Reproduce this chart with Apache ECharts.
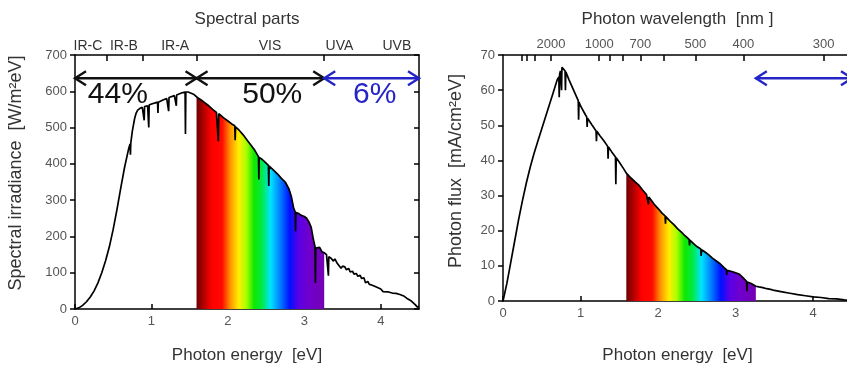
<!DOCTYPE html>
<html>
<head>
<meta charset="utf-8">
<script src="https://cdn.jsdelivr.net/npm/echarts@6/dist/echarts.min.js"></script>
<style>
  html, body { margin: 0; padding: 0; overflow: hidden; background: #fff; }
  #chart { width: 880px; height: 369px; }
</style>
</head>
<body>
<div id="chart"></div>
<script>
// solar spectrum, spectral irradiance [W/m2eV] vs photon energy [eV]
const energyIrr = [0, 0.05, 0.1, 0.15, 0.2, 0.25, 0.3, 0.35, 0.4, 0.45, 0.5, 0.55, 0.6, 0.65, 0.7, 0.72, 0.725, 0.73, 0.75, 0.78, 0.8, 0.82, 0.85, 0.88, 0.9, 0.905, 0.91, 0.95, 0.96, 0.965, 0.97, 1.0, 1.05, 1.08, 1.085, 1.09, 1.1, 1.15, 1.2, 1.22, 1.225, 1.23, 1.25, 1.3, 1.32, 1.325, 1.33, 1.35, 1.4, 1.44, 1.445, 1.45, 1.48, 1.5, 1.55, 1.59, 1.62, 1.65, 1.7, 1.75, 1.8, 1.85, 1.87, 1.875, 1.88, 1.9, 1.95, 2.0, 2.05, 2.09, 2.095, 2.1, 2.15, 2.2, 2.25, 2.3, 2.35, 2.4, 2.405, 2.41, 2.45, 2.5, 2.53, 2.535, 2.54, 2.55, 2.6, 2.65, 2.7, 2.75, 2.8, 2.83, 2.86, 2.88, 2.885, 2.89, 2.92, 2.96, 3.0, 3.03, 3.06, 3.09, 3.12, 3.14, 3.145, 3.15, 3.17, 3.2, 3.23, 3.26, 3.29, 3.31, 3.315, 3.32, 3.35, 3.38, 3.4, 3.43, 3.45, 3.48, 3.5, 3.53, 3.55, 3.58, 3.6, 3.63, 3.65, 3.68, 3.7, 3.73, 3.75, 3.78, 3.8, 3.83, 3.85, 3.88, 3.9, 3.95, 4.0, 4.03, 4.05, 4.1, 4.15, 4.2, 4.25, 4.3, 4.35, 4.4, 4.45, 4.48, 4.5];
const irradiance = [0, 3, 10, 20, 33, 50, 72, 100, 133, 172, 220, 275, 335, 392, 440, 455, 425, 458, 490, 525, 540, 548, 553, 556, 558, 520, 558, 560, 562, 500, 562, 565, 568, 570, 540, 570, 572, 576, 580, 582, 545, 583, 584, 588, 590, 560, 590, 592, 596, 598, 482, 598, 598, 596, 592, 585, 580, 576, 568, 560, 550, 542, 540, 462, 538, 535, 526, 518, 510, 505, 465, 502, 492, 480, 466, 452, 438, 420, 357, 418, 412, 402, 396, 339, 394, 392, 382, 372, 360, 350, 330, 310, 278, 268, 214, 266, 264, 258, 255, 250, 240, 225, 190, 172, 72, 168, 165, 170, 158, 155, 150, 146, 92, 144, 140, 132, 138, 126, 122, 112, 118, 116, 108, 112, 102, 104, 96, 98, 90, 93, 84, 86, 72, 76, 68, 66, 70, 60, 55, 48, 44, 47, 44, 43, 40, 36, 28, 22, 12, 5, 8, 3];

// photon flux [mA/cm2eV] vs photon energy [eV]
const energyFlux = [0, 0.05, 0.1, 0.15, 0.2, 0.25, 0.3, 0.35, 0.4, 0.45, 0.5, 0.55, 0.6, 0.65, 0.7, 0.72, 0.725, 0.73, 0.74, 0.75, 0.755, 0.76, 0.77, 0.8, 0.805, 0.81, 0.85, 0.9, 0.95, 0.97, 0.975, 0.98, 1.0, 1.05, 1.08, 1.085, 1.09, 1.1, 1.15, 1.2, 1.205, 1.21, 1.25, 1.3, 1.35, 1.355, 1.36, 1.4, 1.45, 1.455, 1.46, 1.5, 1.55, 1.59, 1.65, 1.7, 1.75, 1.8, 1.85, 1.87, 1.875, 1.88, 1.9, 1.95, 2.0, 2.05, 2.09, 2.095, 2.1, 2.15, 2.2, 2.25, 2.3, 2.35, 2.4, 2.405, 2.41, 2.45, 2.5, 2.55, 2.555, 2.56, 2.6, 2.65, 2.7, 2.75, 2.8, 2.85, 2.88, 2.885, 2.89, 2.9, 2.95, 3.0, 3.05, 3.1, 3.14, 3.145, 3.15, 3.2, 3.26, 3.3, 3.35, 3.4, 3.45, 3.5, 3.55, 3.6, 3.7, 3.8, 3.9, 4.0, 4.1, 4.2, 4.3, 4.4, 4.5];
const photonFlux = [0, 5, 11, 17, 23, 28.5, 33.5, 38, 42, 45.5, 49, 52.5, 56, 59.5, 63, 63.8, 58, 64.5, 65.5, 66, 60, 66.5, 67, 65.5, 60, 65.2, 63, 60.5, 58, 57, 51.6, 56.6, 55.5, 53.5, 52.3, 49.5, 52, 51.7, 50, 48.4, 45.5, 48.3, 47, 45.6, 44, 40.5, 43.8, 42.5, 41, 33.2, 40.8, 39.5, 37.8, 36.4, 35, 34, 33, 31.6, 30.3, 29.8, 27.5, 29.6, 29, 27.5, 26.3, 25, 24.2, 22, 24, 22.8, 21.8, 20.6, 19.6, 18.5, 17.5, 15.8, 17.3, 16.5, 15.5, 14.8, 12.8, 14.6, 14, 13.2, 12.2, 11.4, 10.6, 9.5, 8.9, 7.4, 8.7, 8.6, 8.4, 8, 7.6, 6.5, 5.6, 2.8, 5.4, 5, 4.2, 4, 3.8, 3.5, 3.3, 3, 2.8, 2.6, 2.2, 1.8, 1.5, 1.2, 1, 0.7, 0.6, 0.3, 0.2];

const energyTicks = [0, 1, 2, 3, 4];
const irrTicks = [0, 100, 200, 300, 400, 500, 600, 700];
const fluxTicks = [0, 10, 20, 30, 40, 50, 60, 70];

const partNames = ['IR-C', 'IR-B', 'IR-A', 'VIS', 'UVA', 'UVB'];
const partCenters = [0.17, 0.64, 1.31, 2.55, 3.46, 4.21];
const partBounds = [0.413, 0.886, 1.59, 3.26];

const waveLabels = [2000, 1000, 700, 500, 400, 300];
const waveTicks = [5000, 4000, 3000, 2000, 1000, 900, 800, 700, 600, 500, 400, 300];

const shareNames = ['44%', '50%', '6%'];
const shareSpans = [[0, 1.59], [1.59, 3.26], [3.26, 4.5]];
const visRange = [1.59, 3.26];

const HC = 1239.84;
const FONT = 'Liberation Sans, Arial, sans-serif';
const BLUE = '#2424c8';
const INK = '#111';

const pairs = (xs, ys) => xs.map((x, i) => [x, ys[i]]);
const visPart = (xs, ys) => pairs(xs, ys).filter(p => p[0] >= visRange[0] && p[0] <= visRange[1]);
const nearest = (arr, v) => {
  let best = 0;
  arr.forEach((a, i) => { if (Math.abs(a - v) < Math.abs(arr[best] - v)) best = i; });
  return best;
};

const rainbow = new echarts.graphic.LinearGradient(0, 0, 1, 0, [
  { offset: 0, color: '#6e0000' },
  { offset: 0.12, color: '#ff0000' },
  { offset: 0.2, color: '#ff0a00' },
  { offset: 0.26, color: '#ff8c00' },
  { offset: 0.33, color: '#ffee00' },
  { offset: 0.39, color: '#a8ff00' },
  { offset: 0.45, color: '#10e800' },
  { offset: 0.51, color: '#00ea40' },
  { offset: 0.58, color: '#00e4ff' },
  { offset: 0.66, color: '#0078ff' },
  { offset: 0.73, color: '#0010ff' },
  { offset: 0.8, color: '#5a00e6' },
  { offset: 0.88, color: '#7000cc' },
  { offset: 1, color: '#7400b4' }
]);

const frame = { show: true, onZero: false, lineStyle: { color: '#000', width: 1.5 } };
const tickLine = { color: '#000', width: 1.5 };
const titleStyle = { fontSize: 17, color: '#333', fontFamily: FONT };

function bottomAxis(grid) {
  return {
    type: 'value', gridIndex: grid, min: 0, max: 4.5, interval: 1,
    axisLine: frame, splitLine: { show: false },
    axisTick: { inside: true, length: 5, lineStyle: tickLine },
    axisLabel: { margin: 6, fontSize: 13, color: '#555', fontFamily: FONT, showMaxLabel: false,
      formatter: v => energyTicks.indexOf(v) >= 0 ? String(v) : '' },
    name: 'Photon energy  [eV]', nameLocation: 'middle', nameGap: grid === 0 ? 38 : 46,
    nameTextStyle: titleStyle
  };
}

function leftAxis(grid, max, ticks, name, shift) {
  return {
    type: 'value', gridIndex: grid, min: 0, max: max, interval: max / 7,
    axisLine: frame, splitLine: { show: false },
    axisTick: { inside: false, length: 5, lineStyle: tickLine },
    axisLabel: { margin: 8, fontSize: 13, color: '#555', fontFamily: FONT, formatter: v => ticks.indexOf(v) >= 0 ? String(v) : '' },
    name: name, nameLocation: 'middle', nameGap: grid === 0 ? 50 : 38,
    nameTextStyle: Object.assign({}, titleStyle, { fontSize: 18, padding: [0, 0, 0, shift] })
  };
}

function rightAxis(grid, max) {
  return {
    type: 'value', gridIndex: grid, position: 'right', min: 0, max: max, interval: max / 7,
    axisLine: frame, splitLine: { show: false },
    axisTick: { inside: true, length: 5, lineStyle: tickLine },
    axisLabel: { show: false }
  };
}

function arrows(xIdx, yIdx, y, list, colors) {
  return {
    type: 'custom', xAxisIndex: xIdx, yAxisIndex: yIdx, z: 5, silent: true,
    data: list.map(s => [s[0], s[1], y]),
    encode: { x: [0, 1], y: 2 },
    renderItem(params, api) {
      const a = api.coord([api.value(0), api.value(2)]);
      const b = api.coord([api.value(1), api.value(2)]);
      const h = 7, d = 11;
      const st = { stroke: colors[params.dataIndex], lineWidth: 2.4, fill: null };
      return {
        type: 'group', children: [
          { type: 'line', shape: { x1: a[0], y1: a[1], x2: b[0], y2: b[1] }, style: st },
          { type: 'polyline', shape: { points: [[a[0] + d, a[1] - h], a, [a[0] + d, a[1] + h]] }, style: st },
          { type: 'polyline', shape: { points: [[b[0] - d, b[1] - h], b, [b[0] - d, b[1] + h]] }, style: st }
        ]
      };
    }
  };
}

function shareLabels(points, colors) {
  return {
    type: 'custom', xAxisIndex: 0, yAxisIndex: 0, z: 6, silent: true,
    data: points,
    encode: { x: 0, y: 1 },
    renderItem(params, api) {
      const p = api.coord([api.value(0), api.value(1)]);
      return {
        type: 'text', x: p[0], y: p[1],
        style: {
          text: shareNames[params.dataIndex], fill: colors[params.dataIndex],
          fontSize: 30, fontFamily: FONT, align: 'center', verticalAlign: 'middle'
        }
      };
    }
  };
}

const chart = echarts.init(document.getElementById('chart'), null, { renderer: 'canvas' });
chart.setOption({
  animation: false,
  textStyle: { fontFamily: FONT },
  grid: [
    { left: 75, top: 55, width: 344, height: 262 },
    { left: 503, top: 55, width: 349, height: 254 }
  ],
  xAxis: [
    bottomAxis(0),
    {
      type: 'value', gridIndex: 0, position: 'top', min: 0, max: 4.5,
      axisLine: frame, splitLine: { show: false },
      axisTick: { inside: true, length: 6, customValues: partBounds, lineStyle: tickLine },
      axisLabel: { customValues: partCenters, margin: 2, fontSize: 14, color: '#333', fontFamily: FONT,
        formatter: v => partNames[nearest(partCenters, v)] },
      name: 'Spectral parts', nameLocation: 'middle', nameGap: 27,
      nameTextStyle: titleStyle
    },
    bottomAxis(1),
    {
      type: 'value', gridIndex: 1, position: 'top', min: 0, max: 4.5,
      axisLine: frame, splitLine: { show: false },
      axisTick: { inside: true, length: 6, customValues: waveTicks.map(w => HC / w), lineStyle: tickLine },
      axisLabel: { customValues: waveLabels.map(w => HC / w), margin: 4, fontSize: 13, color: '#555', fontFamily: FONT,
        formatter: v => String(Math.round(HC / v / 100) * 100) },
      name: 'Photon wavelength  [nm ]', nameLocation: 'middle', nameGap: 27,
      nameTextStyle: titleStyle
    }
  ],
  yAxis: [
    leftAxis(0, 700, irrTicks, 'Spectral irradiance  [W/m²eV]', 18),
    rightAxis(0, 700),
    leftAxis(1, 70, fluxTicks, 'Photon flux  [mA/cm²eV]', 14),
    rightAxis(1, 70)
  ],
  series: [
    {
      type: 'line', xAxisIndex: 0, yAxisIndex: 0, data: visPart(energyIrr, irradiance),
      showSymbol: false, lineStyle: { width: 0 }, areaStyle: { color: rainbow, opacity: 1 }, z: 1
    },
    {
      type: 'line', xAxisIndex: 0, yAxisIndex: 0, data: pairs(energyIrr, irradiance),
      showSymbol: false, lineStyle: { color: '#000', width: 1.7 }, z: 3
    },
    {
      type: 'line', xAxisIndex: 2, yAxisIndex: 2, data: visPart(energyFlux, photonFlux),
      showSymbol: false, lineStyle: { width: 0 }, areaStyle: { color: rainbow, opacity: 1 }, z: 1
    },
    {
      type: 'line', xAxisIndex: 2, yAxisIndex: 2, data: pairs(energyFlux, photonFlux),
      showSymbol: false, lineStyle: { color: '#000', width: 1.7 }, z: 3
    },
    arrows(0, 0, 636, shareSpans, [INK, INK, BLUE]),
    arrows(2, 2, 63.4, [shareSpans[2]], [BLUE]),
    shareLabels([[0.56, 590], [2.58, 590], [3.92, 590]], [INK, INK, BLUE])
  ]
});
</script>
</body>
</html>
